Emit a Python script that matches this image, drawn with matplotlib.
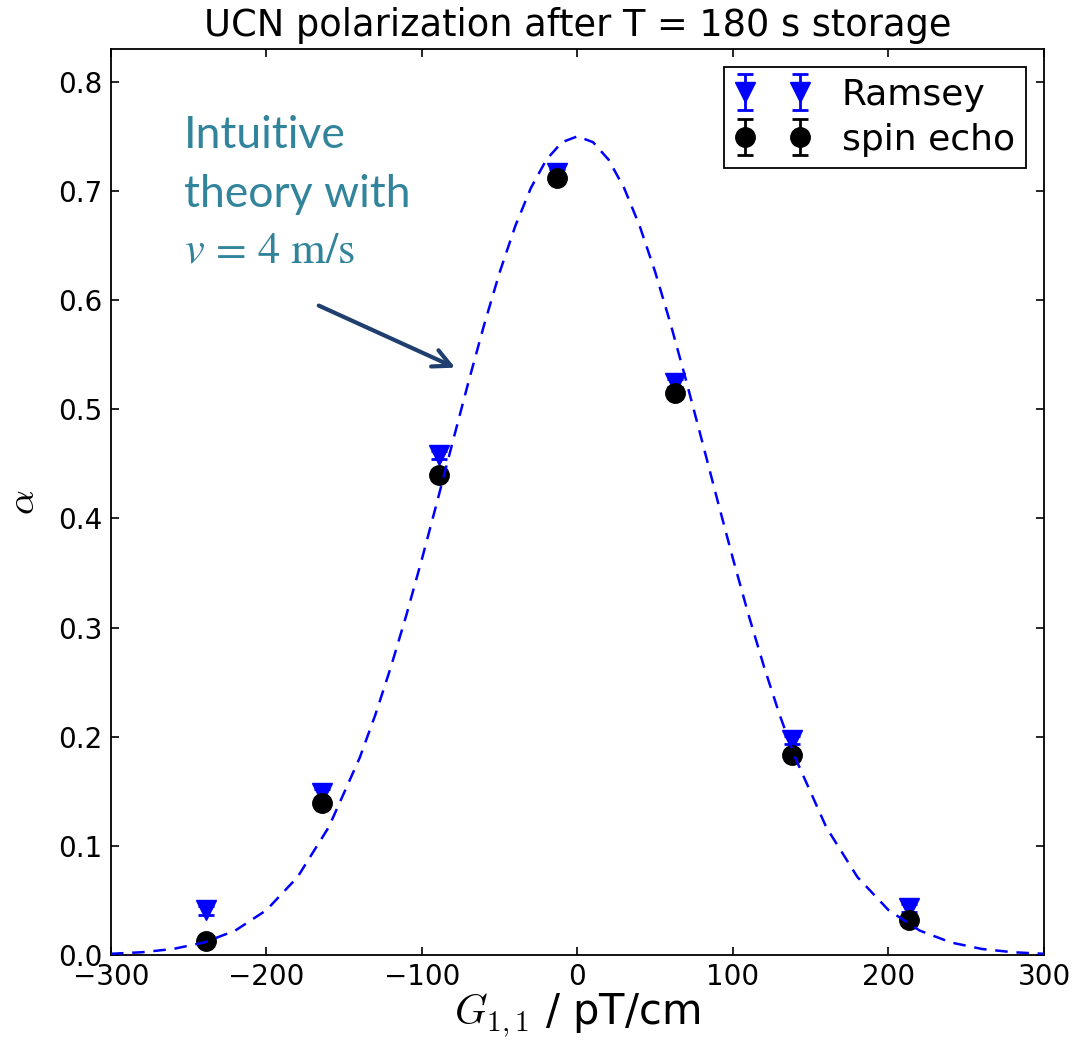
import numpy as np
import matplotlib.pyplot as plt

# measured points
G = [-239, -164, -89, -13, 63, 138, 213]
ramsey = [0.041, 0.148, 0.458, 0.716, 0.524, 0.197, 0.043]
ramsey_err = [0.004, 0.004, 0.004, 0.004, 0.004, 0.004, 0.004]
echo = [0.013, 0.139, 0.440, 0.712, 0.515, 0.183, 0.032]
echo_err = [0.004, 0.004, 0.004, 0.004, 0.004, 0.004, 0.004]

# theory curve
G_th = [-300, -280, -260, -240, -220, -200, -180, -160, -140, -130, -120,
        -110, -100, -90, -80, -70, -60, -50, -40, -30, -20, -10, 0, 10, 20,
        30, 40, 50, 60, 70, 80, 90, 100, 110, 120, 130, 140, 160, 180, 200,
        220, 240, 260, 280, 300]
alpha_th = [0.0011, 0.0025, 0.0055, 0.0115, 0.0224, 0.0411, 0.0714, 0.1170,
            0.1808, 0.2200, 0.2638, 0.3116, 0.3629, 0.4166, 0.4714, 0.5255,
            0.5775, 0.6256, 0.6678, 0.7026, 0.7286, 0.7446, 0.7500, 0.7446,
            0.7286, 0.7026, 0.6678, 0.6256, 0.5775, 0.5255, 0.4714, 0.4166,
            0.3629, 0.3116, 0.2638, 0.2200, 0.1808, 0.1170, 0.0714, 0.0411,
            0.0224, 0.0115, 0.0055, 0.0025, 0.0011]

fig = plt.figure(figsize=(10.9, 10.47), dpi=100)
ax = fig.add_axes([0.1018, 0.0879, 0.856, 0.8653])

ax.errorbar(G, ramsey, yerr=ramsey_err, fmt='v', color='blue', ms=14,
            capsize=6, elinewidth=2, capthick=2, label='Ramsey', zorder=3)
ax.errorbar(G, echo, yerr=echo_err, fmt='o', color='black', ms=14,
            capsize=6, elinewidth=2, capthick=2, label='spin echo', zorder=4)
ax.plot(G_th, alpha_th, '--', color='blue', lw=1.8, dashes=(5, 3.5), zorder=5)

ax.set_xlim(-300, 300)
ax.set_ylim(0, 0.83)
ax.set_xticks(np.arange(-300, 301, 100))
ax.set_yticks(np.arange(0, 0.81, 0.1))
ax.tick_params(direction='in', top=True, right=True, length=6, width=1.2,
               labelsize=20, pad=6)
for s in ax.spines.values():
    s.set_linewidth(1.3)

ax.set_title('UCN polarization after T = 180 s storage', fontsize=26.5, pad=9)
ax.set_xlabel(r'$G_{1,1}$ / pT/cm', fontsize=30, math_fontfamily='cm', labelpad=0)
ax.set_ylabel(r'$\alpha$', fontsize=28, math_fontfamily='cm', labelpad=12)

leg = ax.legend(loc='upper right', numpoints=2, fontsize=26, fancybox=False,
                framealpha=1, edgecolor='black', borderaxespad=0.5,
                handlelength=2.13, handletextpad=0.85, borderpad=0.3,
                labelspacing=0.3)
leg.get_frame().set_linewidth(1.3)

teal = '#31849B'
ax.text(-253, 0.7395, 'Intuitive', fontsize=32, color=teal, family='Lato',
        va='baseline')
ax.text(-253, 0.6855, 'theory with', fontsize=32, color=teal, family='Lato',
        va='baseline')
ax.text(-253, 0.634, r'$v\,=\,4\ \mathrm{m/s}$', fontsize=32, color=teal,
        math_fontfamily='stix', va='baseline')
ax.annotate('', xy=(-77, 0.537), xytext=(-168, 0.596),
            arrowprops=dict(arrowstyle='->', color='#1F3F6E', lw=3,
                            mutation_scale=32))

fig.savefig('out.png', dpi=100)
